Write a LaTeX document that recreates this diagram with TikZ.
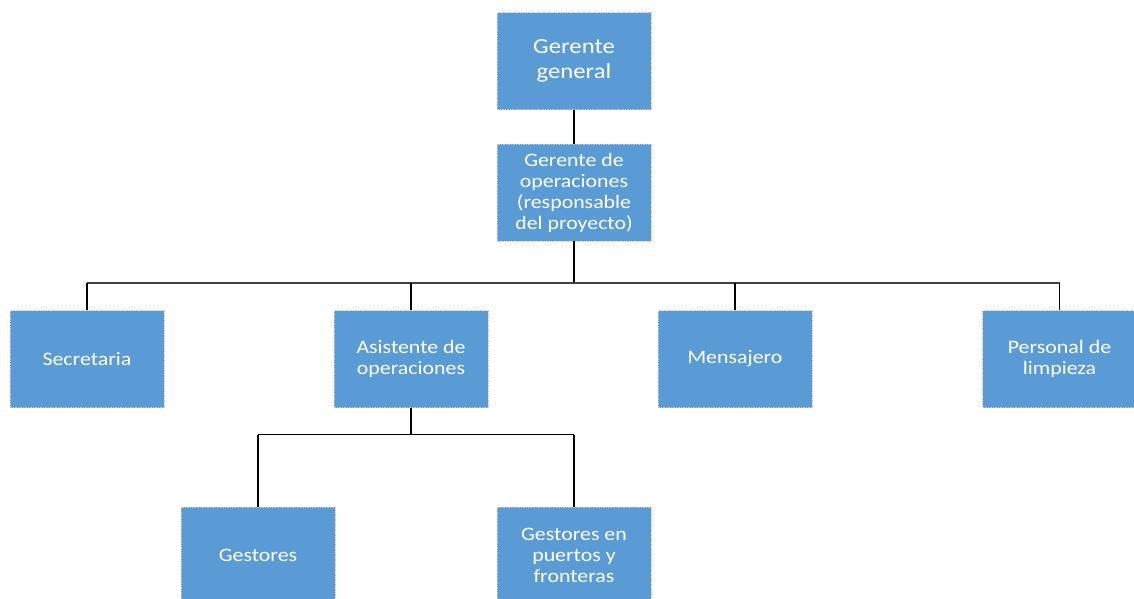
\documentclass[tikz,border=0pt]{standalone}
\usepackage{fontspec}
\setmainfont{Carlito}[FakeStretch=1.15]
\begin{document}
\begin{tikzpicture}[x=1pt,y=-1pt,
  box/.style={rectangle, fill=boxblue, draw=gray!45, dash pattern=on 1.5pt off 1pt, line width=0.6pt,
    minimum width=154pt, minimum height=97pt, text=white, align=center, inner sep=2pt,
    font=\fontsize{19}{21}\selectfont},
  link/.style={draw=black, line width=1.2pt},
  buslink/.style={draw=black!75, line width=1.5pt}]
\definecolor{boxblue}{HTML}{5B9BD5}
\useasboundingbox (0,0) rectangle (1134,598);
\node[box, font=\fontsize{21.5}{25}\selectfont] (gg) at (574,61) {Gerente\\general};
\node[box] (go) at (574,192.5) {Gerente de\\operaciones\\(responsable\\del proyecto)};
\node[box] (sec) at (87,359) {Secretaria};
\node[box] (asi) at (411,359) {Asistente de\\operaciones};
\node[box] (men) at (735,359) {Mensajero};
\node[box] (per) at (1059.5,359) {Personal de\\limpieza};
\node[box] (ges) at (258,555.5) {Gestores};
\node[box] (gpf) at (574,555.5) {Gestores en\\puertos y\\fronteras};
\coordinate (bus) at (574,283);
\coordinate (bus2) at (411,434.5);
\draw[link] (gg.south) -- (go.north);
\draw[link] (go.south) -- (bus);
\draw[buslink] (sec.north |- bus) -- (per.north |- bus);
\draw[link] (sec.north) -- (sec.north |- bus);
\draw[link] (asi.north) -- (asi.north |- bus);
\draw[link] (men.north) -- (men.north |- bus);
\draw[link] (per.north) -- (per.north |- bus);
\draw[link] (asi.south) -- (bus2);
\draw[link] (ges.north |- bus2) -- (gpf.north |- bus2);
\draw[link] (ges.north) -- (ges.north |- bus2);
\draw[link] (gpf.north) -- (gpf.north |- bus2);
\end{tikzpicture}
\end{document}
